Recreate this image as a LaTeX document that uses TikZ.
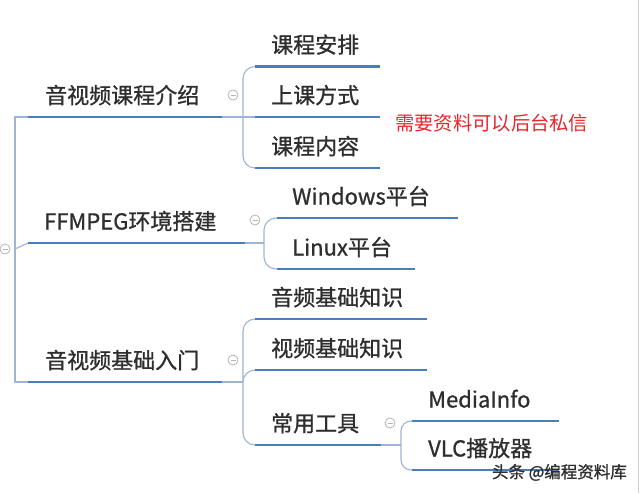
\documentclass[tikz,border=0pt]{standalone}
\usepackage{fontspec}
\setmainfont{Noto Sans CJK SC}
\newfontfamily\cjk{Noto Sans CJK SC}
\newfontfamily\cjkb[FakeBold=0.9]{Noto Sans CJK SC}
\definecolor{ublue}{HTML}{4A7EBB}
\definecolor{cgray}{HTML}{9FB4D1}
\definecolor{txt}{HTML}{2E2E2E}
\definecolor{fgray}{HTML}{B5B5B5}
\definecolor{redtxt}{HTML}{E8262B}
\tikzset{
  topic/.style={anchor=base west, inner sep=0pt, text=txt, font=\cjkb\fontsize{22}{24}\selectfont},
  uline/.style={ublue, line width=2.8pt},
  conn/.style={cgray, line width=1.1pt},
  fold/.style={circle, draw=fgray, line width=0.8pt, minimum size=10pt, inner sep=0pt,
    path picture={\draw[fgray, line width=0.8pt] ([xshift=2.5pt]path picture bounding box.west) -- ([xshift=-2.5pt]path picture bounding box.east);}},
}
\begin{document}
\begin{tikzpicture}[x=1pt,y=-1pt]
\useasboundingbox (0,0) rectangle (640,493);
\fill[white] (0,0) rectangle (640,493);
\draw[gray!35, line width=1.5pt] (638.5,0) -- (638.5,493);

% level 1
\node[topic] (t1) at (45,103.5) {音视频课程介绍};
\node[topic] (t2) at (44,229.5) {FFMPEG环境搭建};
\node[topic] (t3) at (45,368.5) {音视频基础入门};
\coordinate (t1a) at (28,117);  \coordinate (t1b) at (222,117);
\coordinate (t2a) at (28,243);  \coordinate (t2b) at (245,243);
\coordinate (t3a) at (28,382);  \coordinate (t3b) at (222,382);

% level 2
\node[topic] (c11) at (271,53) {课程安排};
\node[topic] (c12) at (271,103.5) {上课方式};
\node[topic] (c13) at (271,154.5) {课程内容};
\coordinate (c11a) at (255,66.5); \coordinate (c11b) at (380,66.5);
\coordinate (c12a) at (255,117);  \coordinate (c12b) at (380,117);
\coordinate (c13a) at (255,168);  \coordinate (c13b) at (380,168);

\node[topic] (c21) at (292,204.5) {Windows平台};
\node[topic] (c22) at (292,255.5) {Linux平台};
\coordinate (c21a) at (277,218); \coordinate (c21b) at (458,218);
\coordinate (c22a) at (277,269); \coordinate (c22b) at (415,269);

\node[topic] (c31) at (271,305.5) {音频基础知识};
\node[topic] (c32) at (271,356.5) {视频基础知识};
\node[topic] (c33) at (271,431.5) {常用工具};
\coordinate (c31a) at (255,319); \coordinate (c31b) at (427,319);
\coordinate (c32a) at (255,370); \coordinate (c32b) at (427,370);
\coordinate (c33a) at (255,445); \coordinate (c33b) at (381,445);

% level 3
\node[topic] (c41) at (428,407.5) {MediaInfo};
\node[topic] (c42) at (428,456.5) {VLC播放器};
\coordinate (c41a) at (412,421); \coordinate (c41b) at (559,421);
\coordinate (c42a) at (412,470); \coordinate (c42b) at (559,470);

% junctions
\coordinate (r) at (15,249);
\coordinate (j1) at (243,117);
\coordinate (j2) at (264,243);
\coordinate (j3) at (243,382);
\coordinate (j4) at (401,445);

% connectors
\draw[conn] (t1a) -| (r) |- (t3a);
\draw[conn] (r) -- (t2a);
\draw[conn] (t1b) -- (c12a);
\draw[conn, rounded corners=12pt] (j1) |- (c11a);
\draw[conn, rounded corners=12pt] (j1) |- (c13a);
\draw[conn] (t2b) -- (j2);
\draw[conn, rounded corners=12pt] (j2) |- (c21a);
\draw[conn, rounded corners=12pt] (j2) |- (c22a);
\draw[conn] (t3b) -- (j3);
\draw[conn, rounded corners=12pt] (j3) |- (c31a);
\draw[conn, rounded corners=12pt] (j3) |- (c32a);
\draw[conn, rounded corners=12pt] (j3) |- (c33a);
\draw[conn] (c33b) -- (j4);
\draw[conn, rounded corners=10pt] (j4) |- (c41a);
\draw[conn, rounded corners=10pt] (j4) |- (c42a);

% underlines
\foreach \n in {t1,t2,t3,c11,c12,c13,c21,c22,c31,c32,c33,c41,c42}
  \draw[uline] (\n a) -- (\n b);

% fold markers
\node[fold] (f0) at (5,249) {};
\node[fold] (f1) at (233,95) {};
\node[fold] (f2) at (255,220) {};
\node[fold] (f3) at (233,360) {};
\node[fold] (f4) at (390,423) {};

% note
\node[anchor=base west, inner sep=0pt, text=redtxt, font=\cjk\fontsize{19.3}{21}\selectfont] (note) at (395,130.5) {需要资料可以后台私信};

% watermark
\node[anchor=base east, inner sep=0pt, text=txt, font=\cjkb\fontsize{16.5}{18}\selectfont] (wm) at (627,478) {头条 @编程资料库};
\end{tikzpicture}
\end{document}
